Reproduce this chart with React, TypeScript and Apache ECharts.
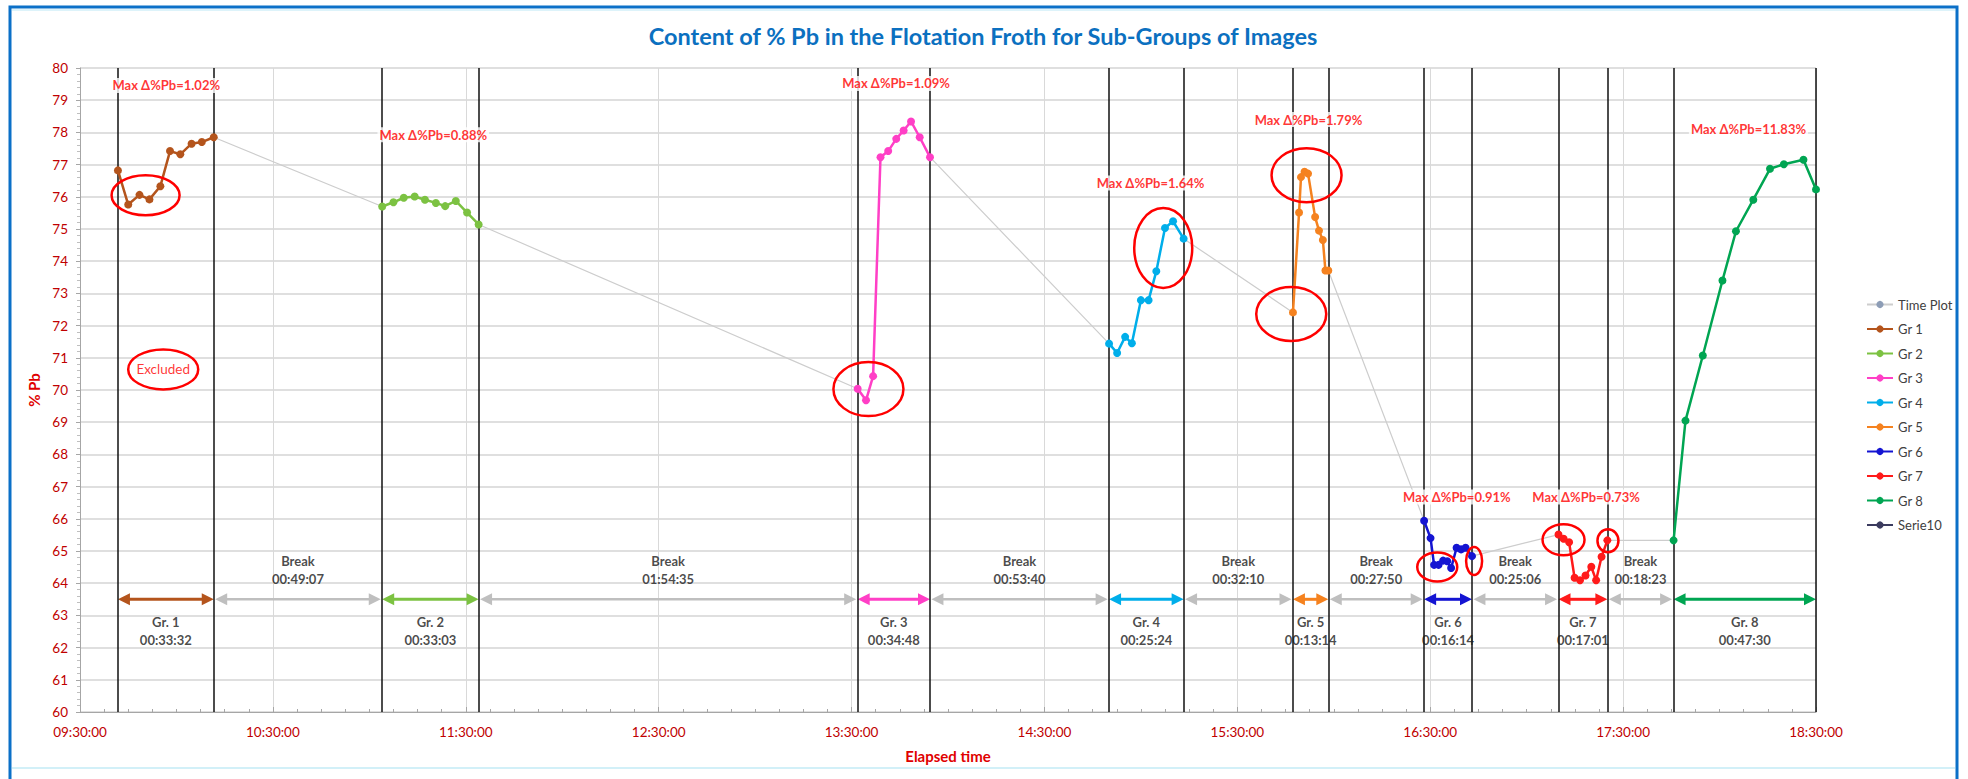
import React, { useEffect, useRef } from 'react';
import * as echarts from 'echarts';

// ---------------- DATA ----------------
const groupNames = ['Gr 1', 'Gr 2', 'Gr 3', 'Gr 4', 'Gr 5', 'Gr 6', 'Gr 7', 'Gr 8'];

const gr1Times = ['09:41:48', '09:45:00', '09:48:30', '09:51:36', '09:55:00', '09:58:00', '10:01:12', '10:04:42', '10:07:54', '10:11:36'];
const gr1Values = [76.82, 75.76, 76.06, 75.92, 76.33, 77.42, 77.32, 77.65, 77.70, 77.85];

const gr2Times = ['11:04:00', '11:07:30', '11:10:42', '11:14:06', '11:17:18', '11:20:42', '11:23:36', '11:26:54', '11:30:24', '11:34:00'];
const gr2Values = [75.70, 75.83, 75.97, 76.01, 75.91, 75.81, 75.71, 75.87, 75.51, 75.14];

const gr3Times = ['13:31:54', '13:34:30', '13:36:42', '13:39:00', '13:41:24', '13:43:54', '13:46:12', '13:48:30', '13:51:12', '13:54:24'];
const gr3Values = [70.04, 69.68, 70.43, 77.23, 77.42, 77.80, 78.06, 78.34, 77.85, 77.23];

const gr4Times = ['14:50:06', '14:52:36', '14:55:06', '14:57:12', '15:00:00', '15:02:24', '15:04:48', '15:07:30', '15:10:00', '15:13:18'];
const gr4Values = [71.44, 71.15, 71.65, 71.45, 72.79, 72.79, 73.69, 75.03, 75.24, 74.70];

const gr5Times = ['15:47:18', '15:49:12', '15:49:48', '15:50:54', '15:52:00', '15:54:12', '15:55:24', '15:56:36', '15:57:24', '15:58:18'];
const gr5Values = [72.41, 75.51, 76.61, 76.78, 76.72, 75.37, 74.95, 74.66, 73.71, 73.71];

const gr6Times = ['16:28:06', '16:30:06', '16:31:12', '16:32:36', '16:34:00', '16:35:18', '16:36:30', '16:38:12', '16:39:36', '16:41:00', '16:43:00'];
const gr6Values = [65.94, 65.40, 64.57, 64.57, 64.70, 64.68, 64.47, 65.10, 65.05, 65.10, 64.84];

const gr7Times = ['17:09:54', '17:11:30', '17:13:12', '17:14:54', '17:16:36', '17:18:18', '17:20:06', '17:21:36', '17:23:18', '17:25:06'];
const gr7Values = [65.51, 65.38, 65.27, 64.17, 64.09, 64.24, 64.51, 64.09, 64.82, 65.33];

const gr8Times = ['17:45:42', '17:49:24', '17:54:48', '18:00:54', '18:05:06', '18:10:30', '18:15:42', '18:20:00', '18:26:06', '18:30:00'];
const gr8Values = [65.33, 69.05, 71.07, 73.40, 74.93, 75.91, 76.87, 77.01, 77.15, 76.23];

const groupDurations = ['00:33:32', '00:33:03', '00:34:48', '00:25:24', '00:13:14', '00:16:14', '00:17:01', '00:47:30'];
const breakDurations = ['00:49:07', '01:54:35', '00:53:40', '00:32:10', '00:27:50', '00:25:06', '00:18:23'];

const maxDeltaTexts = ['Max Δ%Pb=1.02%', 'Max Δ%Pb=0.88%', 'Max Δ%Pb=1.09%', 'Max Δ%Pb=1.64%', 'Max Δ%Pb=1.79%', 'Max Δ%Pb=0.91%', 'Max Δ%Pb=0.73%', 'Max Δ%Pb=11.83%'];

const xTickStart = '09:30:00';
const yMin = 60;
const yMax = 80;

// ---------------- ANNOTATION LAYOUT ----------------
const maxDeltaAt: [string, number][] = [
  ['09:56:50', 79.46], ['11:19:54', 77.93], ['13:43:50', 79.52], ['15:03:00', 76.43],
  ['15:52:08', 78.40], ['16:38:18', 66.68], ['17:18:30', 66.68], ['18:09:00', 78.12],
];
// ellipse: [time, value, rx(px), ry(px)]
const highlightEllipses: [string, number, number, number][] = [
  ['09:50:24', 76.05, 34, 20],
  ['09:55:53', 70.64, 35, 20],
  ['13:35:15', 70.03, 35, 27],
  ['15:06:57', 74.41, 29, 40],
  ['15:51:32', 76.67, 35, 27],
  ['15:46:46', 72.36, 35, 27],
  ['16:32:11', 64.50, 20, 14.5],
  ['16:43:39', 64.69, 8, 14],
  ['17:11:28', 65.35, 21, 15.5],
  ['17:25:17', 65.32, 10.5, 11.5],
];
const excludedAt: [string, number] = ['09:55:53', 70.64];
const arrowRowValue = 63.5;
const groupLabelValue = 62.52;
const breakLabelValue = 64.4;

const groupColors = ['#B4541C', '#7CC242', '#FF3FC6', '#00AEEA', '#F5821F', '#1414D2', '#FF1A1A', '#00A552'];
const breakColor = '#BFBFBF';
const FONT = 'Lato, "Open Sans", sans-serif';

// ---------------- HELPERS ----------------
const baseMin = (() => {
  const [h, m, s] = xTickStart.split(':').map(Number);
  return h * 60 + m + s / 60;
})();
const toMin = (t: string) => {
  const [h, m, s] = t.split(':').map(Number);
  return h * 60 + m + s / 60 - baseMin;
};
const pad = (n: number) => String(n).padStart(2, '0');
const fmtTick = (v: number) => {
  const tot = Math.round(baseMin + v);
  return `${pad(Math.floor(tot / 60))}:${pad(tot % 60)}:00`;
};

const groupTimes = [gr1Times, gr2Times, gr3Times, gr4Times, gr5Times, gr6Times, gr7Times, gr8Times];
const groupValues = [gr1Values, gr2Values, gr3Values, gr4Values, gr5Values, gr6Values, gr7Values, gr8Values];

export default function App() {
  const ref = useRef<HTMLDivElement>(null);

  useEffect(() => {
    if (!ref.current) return;
    const chart = echarts.init(ref.current, undefined, { renderer: 'svg' });

    const groupData = groupTimes.map((ts, g) => ts.map((t, i) => [toMin(t), groupValues[g][i]]));
    const allData = groupData.flat();
    const starts = groupData.map((d) => d[0][0]);
    const ends = groupData.map((d) => d[d.length - 1][0]);

    const arrows: { value: number[]; color: string }[] = [];
    groupData.forEach((_, g) => {
      arrows.push({ value: [starts[g], ends[g], arrowRowValue], color: groupColors[g] });
      if (g < groupData.length - 1) {
        arrows.push({ value: [ends[g] + 0.45, starts[g + 1] - 0.45, arrowRowValue], color: breakColor });
      }
    });

    const textStyleBlack = { color: '#1a1a1a', fontFamily: FONT, fontSize: 13, fontWeight: 'bold' as const, lineHeight: 18 };

    const groupSeries = groupNames.map((name, g) => ({
      name,
      type: 'line',
      data: groupData[g],
      symbol: 'circle',
      symbolSize: 8,
      lineStyle: { width: 2.5, color: groupColors[g] },
      itemStyle: { color: groupColors[g] },
      z: 5,
    }));

    const option: any = {
      animation: false,
      backgroundColor: '#ffffff',
      title: {
        text: 'Content of % Pb in the Flotation Froth for Sub-Groups of Images',
        left: 978,
        top: 19,
        textAlign: 'center',
        textStyle: { color: '#0B70C0', fontSize: 23.5, fontWeight: 'bold', fontFamily: FONT },
      },
      legend: {
        orient: 'vertical',
        left: 1861,
        top: 293,
        itemWidth: 26,
        itemHeight: 9,
        itemGap: 11.5,
        textStyle: { color: '#404040', fontSize: 13, fontFamily: FONT },
        data: ['Time Plot', ...groupNames, 'Serie10'],
      },
      grid: { left: 80, right: 152, top: 68, bottom: 67 },
      xAxis: {
        type: 'value',
        min: 0,
        max: 540,
        interval: 60,
        name: 'Elapsed time',
        nameLocation: 'middle',
        nameGap: 36,
        nameTextStyle: { color: '#E00000', fontSize: 15, fontWeight: 'bold', fontFamily: FONT },
        axisLine: { show: true, lineStyle: { color: '#A6A6A6' } },
        axisTick: { show: true, inside: true, length: 5, lineStyle: { color: '#A6A6A6' } },
        minorTick: { show: true, splitNumber: 8, length: 3, lineStyle: { color: '#A6A6A6' } },
        axisLabel: { color: '#C00000', fontSize: 13.5, fontFamily: FONT, margin: 13, formatter: fmtTick },
        splitLine: { show: true, lineStyle: { color: '#D9D9D9', width: 1 } },
      },
      yAxis: {
        type: 'value',
        min: yMin,
        max: yMax,
        interval: 1,
        name: '% Pb',
        nameLocation: 'middle',
        nameGap: 34,
        nameTextStyle: { color: '#E00000', fontSize: 15, fontWeight: 'bold', fontFamily: FONT },
        axisLine: { show: true, lineStyle: { color: '#A6A6A6' } },
        axisTick: { show: true, length: 4, lineStyle: { color: '#A6A6A6' } },
        minorTick: { show: true, splitNumber: 5, length: 3, lineStyle: { color: '#BFBFBF' } },
        axisLabel: { color: '#C00000', fontSize: 13.5, fontFamily: FONT, margin: 12 },
        splitLine: { show: true, lineStyle: { color: '#D4D4D4', width: 1.5 } },
      },
      graphic: [
        { type: 'rect', shape: { x: 10, y: 7, width: 1947, height: 800 }, style: { fill: 'none', stroke: '#0B70C8', lineWidth: 3 }, z: 100 },
        { type: 'line', shape: { x1: 12, y1: 768, x2: 1955, y2: 768 }, style: { stroke: '#D2F0F8', lineWidth: 2 }, z: 100 },
        { type: 'line', shape: { x1: 12, y1: 10, x2: 1955, y2: 10 }, style: { stroke: '#DDF3FA', lineWidth: 2 }, z: 100 },
      ],
      series: [
        {
          name: 'Time Plot',
          type: 'line',
          data: allData,
          symbol: 'circle',
          symbolSize: 3,
          lineStyle: { color: '#CDCDCD', width: 1.2 },
          itemStyle: { color: '#8D9DB6' },
          z: 2,
        },
        {
          name: 'bounds',
          type: 'line',
          data: [],
          z: 3,
          markLine: {
            silent: true,
            symbol: 'none',
            label: { show: false },
            lineStyle: { color: '#111111', width: 1.5, type: 'solid' },
            data: [...starts, ...ends].map((x) => ({ xAxis: x })),
          },
        },
        ...groupSeries,
        {
          name: 'Serie10',
          type: 'line',
          data: [],
          symbol: 'circle',
          symbolSize: 6,
          lineStyle: { color: '#3B3B5E', width: 2 },
          itemStyle: { color: '#3B3B5E' },
        },
        {
          name: 'arrows',
          type: 'custom',
          data: arrows.map((a) => a.value),
          encode: { x: [0, 1], y: 2 },
          clip: false,
          z: 4,
          renderItem: (params: any, api: any) => {
            const p1 = api.coord([api.value(0), api.value(2)]);
            const p2 = api.coord([api.value(1), api.value(2)]);
            const color = arrows[params.dataIndex].color;
            const isGroup = color !== breakColor;
            const hl = 12;
            const hw = 6;
            return {
              type: 'group',
              children: [
                { type: 'line', shape: { x1: p1[0] + hl - 2, y1: p1[1], x2: p2[0] - hl + 2, y2: p2[1] }, style: { stroke: color, lineWidth: isGroup ? 3 : 2.5 } },
                { type: 'polygon', shape: { points: [[p1[0], p1[1]], [p1[0] + hl, p1[1] - hw], [p1[0] + hl, p1[1] + hw]] }, style: { fill: color } },
                { type: 'polygon', shape: { points: [[p2[0], p2[1]], [p2[0] - hl, p2[1] - hw], [p2[0] - hl, p2[1] + hw]] }, style: { fill: color } },
              ],
            };
          },
        },
        {
          name: 'groupLabels',
          type: 'scatter',
          symbolSize: 0,
          z: 6,
          data: groupNames.map((n, g) => ({
            value: [(starts[g] + ends[g]) / 2, groupLabelValue],
            label: { formatter: `Gr. ${g + 1}\n${groupDurations[g]}` },
          })),
          label: { show: true, position: 'inside', ...textStyleBlack },
        },
        {
          name: 'breakLabels',
          type: 'scatter',
          symbolSize: 0,
          z: 6,
          data: breakDurations.map((d, i) => ({
            value: [(ends[i] + starts[i + 1]) / 2, breakLabelValue],
            label: { formatter: `Break\n${d}` },
          })),
          label: { show: true, position: 'inside', ...textStyleBlack },
        },
        {
          name: 'maxLabels',
          type: 'scatter',
          symbolSize: 0,
          z: 8,
          data: maxDeltaTexts.map((t, i) => ({
            value: [toMin(maxDeltaAt[i][0]), maxDeltaAt[i][1]],
            label: { formatter: t },
          })),
          label: {
            show: true,
            position: 'inside',
            color: '#FF0000',
            fontSize: 13,
            fontFamily: FONT,
            fontWeight: 'bold',
            backgroundColor: '#ffffff',
            padding: [1, 2],
          },
        },
        {
          name: 'excluded',
          type: 'scatter',
          symbolSize: 0,
          z: 8,
          data: [{ value: [toMin(excludedAt[0]), excludedAt[1]], label: { formatter: 'Excluded' } }],
          label: { show: true, position: 'inside', color: '#FF0000', fontSize: 13.5, fontFamily: FONT },
        },
        {
          name: 'highlights',
          type: 'custom',
          data: highlightEllipses.map((e) => [toMin(e[0]), e[1], e[2], e[3]]),
          encode: { x: 0, y: 1 },
          clip: false,
          z: 9,
          renderItem: (params: any, api: any) => {
            const c = api.coord([api.value(0), api.value(1)]);
            return {
              type: 'ellipse',
              shape: { cx: c[0], cy: c[1], rx: api.value(2), ry: api.value(3) },
              style: { fill: 'none', stroke: '#FF0000', lineWidth: 2.5 },
            };
          },
        },
      ],
    };

    chart.setOption(option);
    return () => chart.dispose();
  }, []);

  return (
    <div
      ref={ref}
      style={{ position: 'absolute', left: 0, top: 0, width: 1968, height: 779, background: '#fff' }}
    />
  );
}
